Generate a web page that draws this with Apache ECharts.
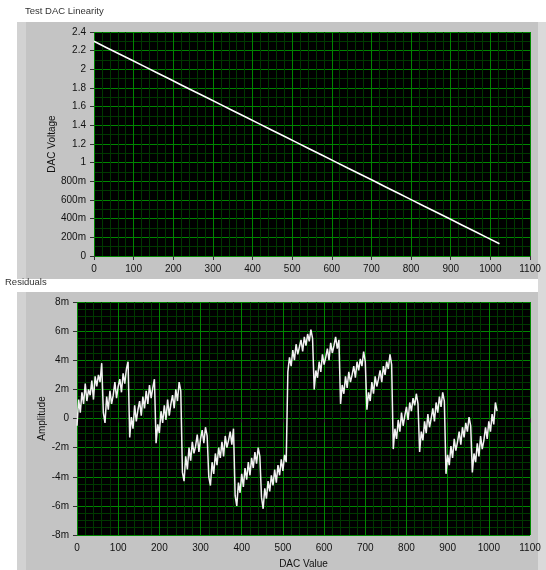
<!DOCTYPE html>
<html>
<head>
<meta charset="utf-8">
<script src="https://cdn.jsdelivr.net/npm/echarts@6/dist/echarts.min.js"></script>
<style>
html,body{margin:0;padding:0;background:#ffffff;}
#chart{width:546px;height:570px;}
</style>
</head>
<body>
<div id="chart"></div>
<script>
// ---- data ----
const xTicks = [0,100,200,300,400,500,600,700,800,900,1000,1100];
// Top chart: DAC voltage (V) read at these DAC codes
const voltageCodes = [0,32,64,96,128,160,192,224,256,288,320,352,384,416,448,480,512,544,576,608,640,672,704,736,768,800,832,864,896,928,960,992,1023];
const voltage = [2.300,2.232,2.164,2.097,2.029,1.961,1.893,1.825,1.757,1.690,1.622,1.554,1.486,1.418,1.350,1.283,1.215,1.147,1.079,1.011,0.943,0.876,0.808,0.740,0.672,0.604,0.536,0.469,0.401,0.333,0.265,0.197,0.131];
// Bottom chart: residuals in mV, one value every DAC_STEP codes
const DAC_STEP = 4;
const residuals = [
 -0.5, 1.3, 0.4, 1.8, 1.0, 2.4, 1.2, 2.0, 1.6, 2.6, 1.3, 2.9, 2.2, 3.0, 2.5, 3.8,
  0.4,-0.3, 1.5, 0.6, 1.9, 1.0, 1.6, 2.5, 1.4, 2.2, 2.7, 1.8, 3.1, 2.4, 3.4, 3.9,
 -1.3, 0.1,-0.7, 0.9,-0.2, 0.6, 1.2, 0.2, 1.5, 0.7, 1.9, 1.0, 2.3, 1.4, 2.1, 2.7,
 -1.7,-0.4,-1.0, 0.5,-0.3, 0.9,-0.1, 1.3, 0.2, 1.0, 1.6, 0.7, 2.0, 1.2, 2.5, 1.9,
 -3.7,-4.3,-2.6,-3.5,-2.0,-2.9,-1.6,-2.4,-1.9,-1.1,-2.3,-1.4,-0.8,-1.7,-0.6,-1.2,
 -4.0,-4.6,-3.0,-3.8,-2.4,-3.2,-2.0,-2.7,-1.6,-2.6,-1.2,-2.0,-1.5,-0.9,-1.8,-0.7,
 -5.3,-6.0,-4.4,-5.1,-3.8,-4.7,-3.4,-4.2,-3.0,-3.9,-2.7,-3.4,-2.3,-3.1,-2.0,-2.6,
 -5.4,-6.2,-4.8,-5.5,-4.3,-5.0,-3.9,-4.6,-3.5,-4.4,-3.2,-3.9,-2.8,-3.6,-2.5,-3.0,
  3.2, 4.2, 3.6, 4.7, 4.0, 5.1, 4.4, 4.9, 5.4, 4.6, 5.6, 5.0, 5.8, 5.3, 6.1, 5.5,
  2.0, 3.3, 2.8, 3.9, 3.2, 4.4, 3.7, 4.2, 4.8, 4.0, 5.2, 4.5, 5.0, 5.6, 4.8, 5.4,
  1.0, 2.3, 1.7, 2.9, 2.1, 3.2, 2.5, 3.0, 3.6, 2.8, 3.9, 3.3, 4.1, 3.6, 4.6, 3.9,
  0.6, 1.8, 1.2, 2.5, 1.7, 2.9, 2.2, 2.7, 3.3, 2.5, 3.6, 3.0, 3.9, 3.4, 4.4, 3.7,
 -2.1,-0.7,-1.4,-0.1,-0.9, 0.4,-0.5, 0.2, 0.8,-0.1, 1.1, 0.5, 1.4, 0.9, 1.7, 1.0,
 -2.3,-0.9,-1.5,-0.2,-1.0, 0.3,-0.6, 0.0, 0.7,-0.2, 1.1, 0.4, 1.5, 0.8, 1.8, 1.2,
 -3.8,-2.5,-3.2,-1.9,-2.7,-1.4,-2.2,-1.6,-0.9,-1.8,-0.6,-1.3,-0.3,-0.9, 0.1,-0.5,
 -3.7,-2.4,-3.0,-1.7,-2.6,-1.2,-2.1,-1.5,-0.6,-1.4,-0.2,-0.9, 0.3,-0.4, 1.1, 0.5
];
const voltageTickLabels = ['0','200m','400m','600m','800m','1','1.2','1.4','1.6','1.8','2','2.2','2.4'];
const residualTickLabels = ['-8m','-6m','-4m','-2m','0','2m','4m','6m','8m'];

// ---- chart ----
const FONT = 'Liberation Sans';
const MAJOR = '#008600';
const MINOR = '#003800';
const chart = echarts.init(document.getElementById('chart'), null, {renderer:'canvas'});

function axisCommon(){
  return {
    axisLine:{show:false},
    axisTick:{show:true, length:4, lineStyle:{color:'#333'}},
    axisLabel:{color:'#111', fontSize:10, fontFamily:FONT, formatter:(v)=>String(v)},
    splitLine:{show:true, lineStyle:{color:MAJOR, width:1}},
    minorSplitLine:{show:true, lineStyle:{color:MINOR, width:1}}
  };
}

const option = {
  animation:false,
  backgroundColor:'#ffffff',
  graphic:[
    {type:'rect', z:-100, shape:{x:17,y:22,width:521,height:257}, style:{fill:'#c4c4c4'}},
    {type:'rect', z:-99, shape:{x:17,y:22,width:9,height:257}, style:{fill:'#d2d2d2'}},
    {type:'rect', z:-100, shape:{x:17,y:292,width:521,height:278}, style:{fill:'#c4c4c4'}},
    {type:'rect', z:-99, shape:{x:17,y:292,width:9,height:278}, style:{fill:'#d2d2d2'}},
    {type:'rect', z:-100, shape:{x:538,y:22,width:8,height:548}, style:{fill:'#dadada'}},
    {type:'text', left:25, top:6, style:{text:'Test DAC Linearity', fill:'#333', fontSize:9.5, fontFamily:FONT}},
    {type:'text', left:5, top:277, style:{text:'Residuals', fill:'#333', fontSize:9.5, fontFamily:FONT}}
  ],
  grid:[
    {left:94, top:32, width:436, height:224, show:true, backgroundColor:'#000000', borderWidth:0},
    {left:77, top:302, width:453, height:234, show:true, backgroundColor:'#000000', borderWidth:0}
  ],
  xAxis:[
    Object.assign(axisCommon(), {
      type:'value', gridIndex:0, min:xTicks[0], max:xTicks[xTicks.length-1], interval:100,
      minorTick:{show:false, splitNumber:5}
    }),
    Object.assign(axisCommon(), {
      type:'value', gridIndex:1, min:xTicks[0], max:xTicks[xTicks.length-1], interval:100,
      minorTick:{show:false, splitNumber:5},
      name:'DAC Value', nameLocation:'middle', nameGap:24, nameMoveOverlap:false,
      nameTextStyle:{color:'#111', fontSize:10, fontFamily:FONT}
    })
  ],
  yAxis:[
    Object.assign(axisCommon(), {
      type:'value', gridIndex:0, min:0, max:2.4, interval:0.2,
      minorTick:{show:false, splitNumber:2},
      name:'DAC Voltage', nameLocation:'middle', nameGap:37, nameMoveOverlap:false,
      nameTextStyle:{color:'#111', fontSize:10, fontFamily:FONT},
      axisLabel:{color:'#111', fontSize:10, fontFamily:FONT, margin:8,
        formatter:(v)=>voltageTickLabels[Math.round(v/0.2)]}
    }),
    Object.assign(axisCommon(), {
      type:'value', gridIndex:1, min:-8, max:8, interval:2,
      minorTick:{show:false, splitNumber:4},
      name:'Amplitude', nameLocation:'middle', nameGap:30, nameMoveOverlap:false,
      nameTextStyle:{color:'#111', fontSize:10, fontFamily:FONT},
      axisLabel:{color:'#111', fontSize:10, fontFamily:FONT, margin:8,
        formatter:(v)=>residualTickLabels[Math.round((v+8)/2)]}
    })
  ],
  series:[
    {type:'line', xAxisIndex:0, yAxisIndex:0, symbol:'none',
     lineStyle:{color:'#ffffff', width:1.6},
     data:voltageCodes.map((c,i)=>[c, voltage[i]])},
    {type:'line', xAxisIndex:1, yAxisIndex:1, symbol:'none',
     lineStyle:{color:'#f2f2f2', width:1.5},
     data:residuals.map((v,i)=>[i*DAC_STEP, v])}
  ]
};
chart.setOption(option);
</script>
</body>
</html>
